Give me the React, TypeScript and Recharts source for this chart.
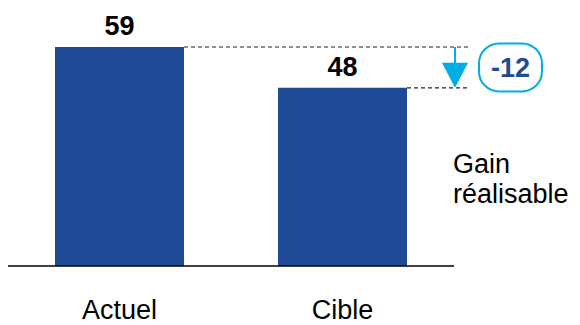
import React from "react";
import { BarChart, Bar, XAxis, YAxis, LabelList } from "recharts";

const categories = ["Actuel", "Cible"];
const values = [59, 48];
const deltaLabel = "-12";
const sideLabelLines = ["Gain", "réalisable"];

const data = categories.map((name, i) => ({ name, value: values[i] }));

const W = 580;
const H = 325;
const XAXIS_H = 30;
const margin = { top: 47, right: 126, bottom: 59 - XAXIS_H, left: 8 };
const plotW = W - margin.left - margin.right;
const plotH = H - margin.top - margin.bottom - XAXIS_H;
const maxV = Math.max(...values);
const yOf = (v: number) => margin.top + plotH * (1 - v / maxV);
const band = plotW / categories.length;
const xCenter = (i: number) => margin.left + band * (i + 0.5);
const BAR = 129;
const FONT = "'Liberation Sans', Arial, sans-serif";
const BLUE = "#1F4A96";
const CYAN = "#00AEE6";

const Tick = (props: any) => {
  const { x, y, payload } = props;
  return (
    <text x={x} y={y} dy={45} textAnchor="middle" fontFamily={FONT} fontSize={27} fill="#000">
      {payload.value}
    </text>
  );
};

const TopLabel = (props: any) => {
  const { x, y, width, value } = props;
  return (
    <text x={x + width / 2} y={y - 12} textAnchor="middle" fontFamily={FONT} fontSize={27} fontWeight="bold" fill="#000">
      {value}
    </text>
  );
};

const Annotation = () => {
  const y1 = yOf(values[0]);
  const y2 = yOf(values[1]);
  const lineEnd = 469;
  const ax = 455;
  const boxX = 479;
  const boxW = 63;
  const boxY = (y1 + y2) / 2 - 24;
  const boxH = 48;
  return (
    <g>
      <line x1={xCenter(0) + BAR / 2} x2={lineEnd} y1={y1} y2={y1} stroke="#222" strokeWidth={1.2} strokeDasharray="4 3" />
      <line x1={xCenter(1) + BAR / 2} x2={lineEnd} y1={y2} y2={y2} stroke="#222" strokeWidth={1.2} strokeDasharray="4 3" />
      <line x1={ax} x2={ax} y1={y1} y2={y2 - 22} stroke={CYAN} strokeWidth={2} />
      <polygon points={`${ax - 13},${y2 - 25} ${ax + 13},${y2 - 25} ${ax},${y2}`} fill={CYAN} />
      <rect x={boxX} y={boxY} width={boxW} height={boxH} rx={20} ry={20} fill="#fff" stroke={CYAN} strokeWidth={2} />
      <text x={boxX + boxW / 2} y={boxY + boxH / 2 + 10} textAnchor="middle" fontFamily={FONT} fontSize={27} fontWeight="bold" fill={BLUE}>
        {deltaLabel}
      </text>
      <text fontFamily={FONT} fontSize={27} fill="#000">
        {sideLabelLines.map((l, i) => (
          <tspan key={i} x={453} y={173 + i * 30}>{l}</tspan>
        ))}
      </text>
    </g>
  );
};

export default function App() {
  return (
    <div style={{ position: "fixed", left: 0, top: 0, width: W, height: H, background: "#fff" }}>
      <BarChart width={W} height={H} data={data} margin={margin} style={{ overflow: "visible" }}>
        <XAxis
          dataKey="name"
          height={XAXIS_H}
          axisLine={{ stroke: "#000", strokeWidth: 1.5 }}
          tickLine={false}
          tick={<Tick />}
          interval={0}
        />
        <YAxis hide domain={[0, maxV]} />
        <Bar dataKey="value" fill={BLUE} barSize={BAR} isAnimationActive={false}>
          <LabelList dataKey="value" content={<TopLabel />} />
        </Bar>
        <Annotation />
      </BarChart>
    </div>
  );
}
